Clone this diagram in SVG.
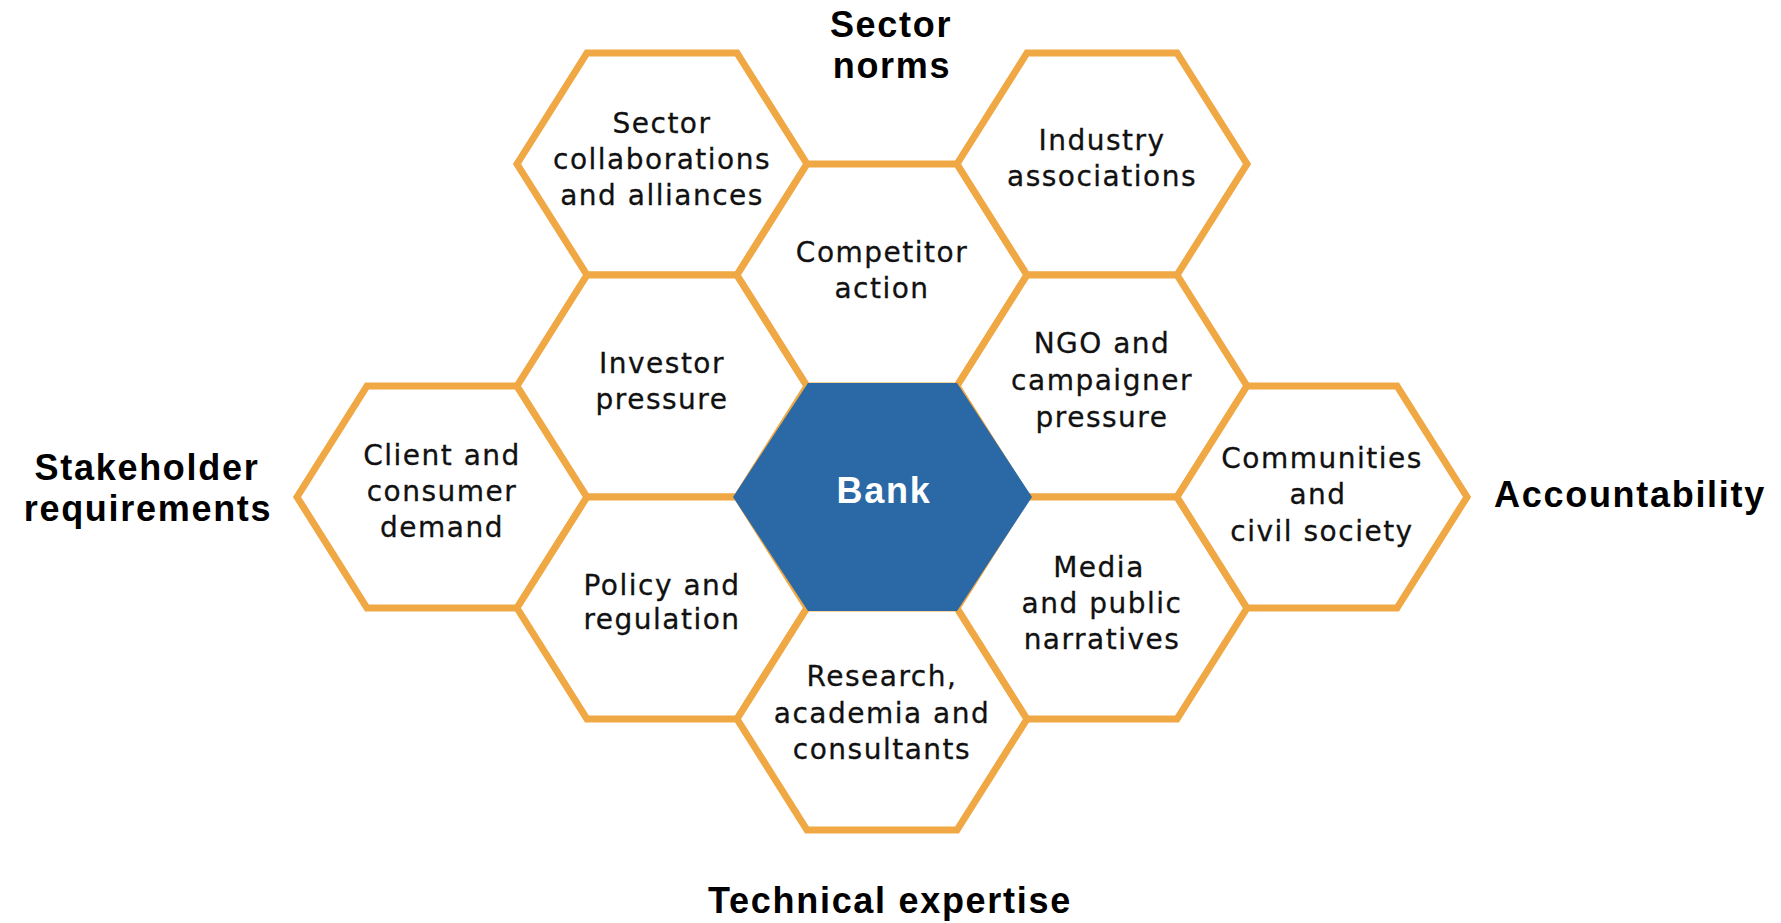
<svg xmlns="http://www.w3.org/2000/svg" xmlns:xlink="http://www.w3.org/1999/xlink" width="1781" height="923" viewBox="0 0 1781 923">
  <style>
    .hex { fill: #ffffff; stroke: #EFA843; stroke-width: 7; }
    .bank { fill: #2A69A6; }
    .t { font-family: "DejaVu Sans", "Noto Sans", sans-serif; font-size: 28px; letter-spacing: 1.5px; fill: #111111; text-anchor: middle; stroke: #111111; stroke-width: 0.3px; }
    .b { font-family: "Liberation Sans", Arial, sans-serif; font-weight: bold; font-size: 36px; letter-spacing: 1.7px; fill: #000000; text-anchor: middle; }
    .bw { fill: #ffffff; }
  </style>
  <defs>
    <polygon id="hexshape" points="-145,0 -75,-111 75,-111 145,0 75,111 -75,111"/>
  </defs>
  <rect width="1781" height="923" fill="#ffffff"/>

  <g id="client" transform="translate(442,497)">
    <use xlink:href="#hexshape" class="hex"/>
    <text class="t"><tspan x="0" y="-32">Client and</tspan><tspan x="0" y="4">consumer</tspan><tspan x="0" y="40">demand</tspan></text>
  </g>
  <g id="sector-collaborations" transform="translate(662,164)">
    <use xlink:href="#hexshape" class="hex"/>
    <text class="t"><tspan x="0" y="-31">Sector</tspan><tspan x="0" y="5">collaborations</tspan><tspan x="0" y="41">and alliances</tspan></text>
  </g>
  <g id="investor" transform="translate(662,386)">
    <use xlink:href="#hexshape" class="hex"/>
    <text class="t"><tspan x="0" y="-13">Investor</tspan><tspan x="0" y="23">pressure</tspan></text>
  </g>
  <g id="policy" transform="translate(662,608)">
    <use xlink:href="#hexshape" class="hex"/>
    <text class="t"><tspan x="0" y="-13">Policy and</tspan><tspan x="0" y="21">regulation</tspan></text>
  </g>
  <g id="competitor" transform="translate(882,275)">
    <use xlink:href="#hexshape" class="hex"/>
    <text class="t"><tspan x="0" y="-13">Competitor</tspan><tspan x="0" y="23">action</tspan></text>
  </g>
  <g id="research" transform="translate(882,719)">
    <use xlink:href="#hexshape" class="hex"/>
    <text class="t"><tspan x="0" y="-33">Research,</tspan><tspan x="0" y="4">academia and</tspan><tspan x="0" y="40">consultants</tspan></text>
  </g>
  <g id="industry" transform="translate(1102,164)">
    <use xlink:href="#hexshape" class="hex"/>
    <text class="t"><tspan x="0" y="-14">Industry</tspan><tspan x="0" y="22">associations</tspan></text>
  </g>
  <g id="ngo" transform="translate(1102,386)">
    <use xlink:href="#hexshape" class="hex"/>
    <text class="t"><tspan x="0" y="-33">NGO and</tspan><tspan x="0" y="4">campaigner</tspan><tspan x="0" y="41">pressure</tspan></text>
  </g>
  <g id="media" transform="translate(1102,608)">
    <use xlink:href="#hexshape" class="hex"/>
    <text class="t"><tspan x="-3" y="-31">Media</tspan><tspan x="0" y="5">and public</tspan><tspan x="0" y="41">narratives</tspan></text>
  </g>
  <g id="communities" transform="translate(1322,497)">
    <use xlink:href="#hexshape" class="hex"/>
    <text class="t"><tspan x="0" y="-29">Communities</tspan><tspan x="-4" y="7">and</tspan><tspan x="0" y="44">civil society</tspan></text>
  </g>

  <g id="bank">
    <polygon class="bank" points="733,497 808,383 957,383 1032,497 957,611 808,611"/>
    <text class="b bw" x="884" y="503">Bank</text>
  </g>

  <g id="connectors"></g>

  <g id="label-sector-norms">
    <text class="b"><tspan x="891" y="37">Sector</tspan><tspan x="892" y="78">norms</tspan></text>
  </g>
  <g id="label-stakeholder">
    <text class="b"><tspan x="147" y="480">Stakeholder</tspan><tspan x="148" y="521">requirements</tspan></text>
  </g>
  <g id="label-accountability">
    <text class="b" x="1630" y="507">Accountability</text>
  </g>
  <g id="label-technical">
    <text class="b" x="890" y="913">Technical expertise</text>
  </g>
</svg>
